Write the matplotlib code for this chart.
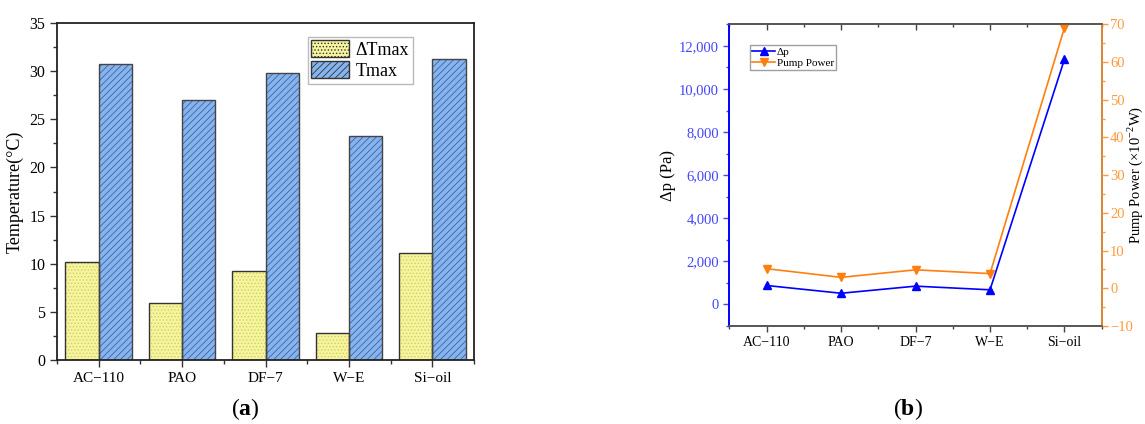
import numpy as np
import matplotlib
matplotlib.use('Agg')
import matplotlib.pyplot as plt
from matplotlib.patches import Patch
from matplotlib.ticker import MultipleLocator, FuncFormatter

plt.rcParams['font.family'] = ['Liberation Serif', 'DejaVu Serif']
plt.rcParams['mathtext.fontset'] = 'custom'
plt.rcParams['mathtext.rm'] = 'Liberation Serif'
plt.rcParams['mathtext.bf'] = 'Liberation Serif:bold'
plt.rcParams['hatch.linewidth'] = 0.6

# data
fluids = ['AC\u2212110', 'PAO', 'DF\u22127', 'W\u2212E', 'Si\u2212oil']
dT_max = [10.2, 5.9, 9.2, 2.8, 11.1]
T_max = [30.7, 27.0, 29.8, 23.3, 31.3]
dp = [880, 520, 850, 680, 11380]
pump_power = [5.2, 2.9, 4.9, 3.9, 69.1]

yellow = '#f6f49c'
blue = '#86b4ee'
c_dp = '#0000ff'
c_pp = '#ff7f0e'

fig = plt.figure(figsize=(11.45, 4.24), dpi=100)

# (a) bars
ax = fig.add_axes([0.0498, 0.1509, 0.3642, 0.7948])
x = np.arange(len(fluids))
w = 0.4
# fill + pattern first, outline on top
ax.bar(x - w / 2, dT_max, w, color=yellow, edgecolor='#d2cf6a', hatch='.....', linewidth=0)
ax.bar(x + w / 2, T_max, w, color=blue, edgecolor='#3f62a0', hatch='/////', linewidth=0)
ax.bar(x - w / 2, dT_max, w, color='none', edgecolor='#333333', linewidth=1)
ax.bar(x + w / 2, T_max, w, color='none', edgecolor='#444444', linewidth=1)

ax.set_xlim(-0.5, 4.5)
ax.set_ylim(0, 35)
ax.set_xticks(x)
ax.set_xticklabels(fluids, fontsize=11)
ax.xaxis.set_minor_locator(MultipleLocator(0.5))
ax.yaxis.set_major_locator(MultipleLocator(5))
ax.yaxis.set_minor_locator(MultipleLocator(2.5))
ax.tick_params(axis='y', labelsize=11.5)
ax.tick_params(which='major', length=5, width=1, color='#333333')
ax.tick_params(which='minor', length=3, width=1, color='#333333')
ax.set_ylabel('Temperature(\u00b0C)', fontsize=13)
for s in ax.spines.values():
    s.set_linewidth(1.3)
    s.set_color('#222222')

h = [Patch(facecolor=yellow, edgecolor='#d2cf6a', hatch='.....', linewidth=0),
     Patch(facecolor=blue, edgecolor='#3f62a0', hatch='/////', linewidth=0)]
leg = ax.legend(h, ['\u0394Tmax', 'Tmax'], loc='upper right', fontsize=13,
                bbox_to_anchor=(0.853, 0.96), fancybox=False, edgecolor='#aaaaaa',
                handlelength=2.1, handleheight=1.1, borderpad=0.2, labelspacing=0.12,
                handletextpad=0.35, borderaxespad=0.0)
leg.get_frame().set_linewidth(1.0)
for p in leg.get_patches():
    p.set_linewidth(1)
    p.set_edgecolor('#333333')

fig.text(0.214, 0.035, r'($\mathbf{a}$)', ha='center', va='center', fontsize=17)

# (b) lines
ax2 = fig.add_axes([0.637, 0.2311, 0.3252, 0.7116])
ax3 = ax2.twinx()
l1, = ax2.plot(x, dp, color=c_dp, marker='^', markersize=6, linewidth=1.2, label='\u0394p')
l2, = ax3.plot(x, pump_power, color=c_pp, marker='v', markersize=6, linewidth=1.2,
               label='Pump Power')

ax2.set_xlim(-0.5, 4.5)
ax2.set_ylim(-1000, 13000)
ax3.set_ylim(-10, 70)
ax2.set_xticks(x)
ax2.set_xticklabels(fluids, fontsize=10)
ax2.xaxis.set_minor_locator(MultipleLocator(0.5))
ax2.yaxis.set_major_locator(MultipleLocator(2000))
ax2.yaxis.set_minor_locator(MultipleLocator(1000))
ax2.yaxis.set_major_formatter(FuncFormatter(lambda v, p: f'{int(v):,}'))
ax3.yaxis.set_major_locator(MultipleLocator(10))
ax3.yaxis.set_minor_locator(MultipleLocator(5))

ax2.tick_params(axis='x', which='both', top=True, direction='out', color='#444444', width=1)
ax2.tick_params(axis='x', which='major', length=4)
ax2.tick_params(axis='x', which='minor', length=2)
ax2.tick_params(axis='y', which='both', colors='#4444ff', labelsize=10.5, width=1)
ax2.tick_params(axis='y', which='major', length=4)
ax2.tick_params(axis='y', which='minor', length=2)
ax3.tick_params(axis='y', which='both', colors='#ff9a3c', labelsize=10.5, width=1, pad=2)
ax3.tick_params(axis='y', which='major', length=4)
ax3.tick_params(axis='y', which='minor', length=2)
ax2.set_ylabel('\u0394p (Pa)', fontsize=12)
ax2.yaxis.set_label_coords(-0.143, 0.5)
ax3.set_ylabel(r'Pump Power ($\times$10$^{-2}$W)', fontsize=10.5)
ax3.yaxis.set_label_coords(1.091, 0.5)
ax3.yaxis.label.set_va('center')

ax2.spines['left'].set_color(c_dp)
ax3.spines['left'].set_color(c_dp)
ax3.spines['right'].set_color('#ff9a3c')
for a in (ax2, ax3):
    a.spines['top'].set_color('#555555')
    a.spines['bottom'].set_color('#555555')
    for s in a.spines.values():
        s.set_linewidth(1.2)

# top ticks pointing inwards
for t in ax2.xaxis.get_major_ticks() + ax2.xaxis.get_minor_ticks():
    t.tick2line.set_marker(3)

ax2.legend([l1, l2], ['\u0394p', 'Pump Power'], loc='upper left', fontsize=8,
           bbox_to_anchor=(0.056, 0.931), fancybox=False, edgecolor='#888888',
           handlelength=2.0, borderpad=0.2, labelspacing=0.1, handletextpad=0.2,
           borderaxespad=0.0)

fig.text(0.793, 0.035, r'($\mathbf{b}$)', ha='center', va='center', fontsize=17)

fig.savefig('out.png', dpi=100)
